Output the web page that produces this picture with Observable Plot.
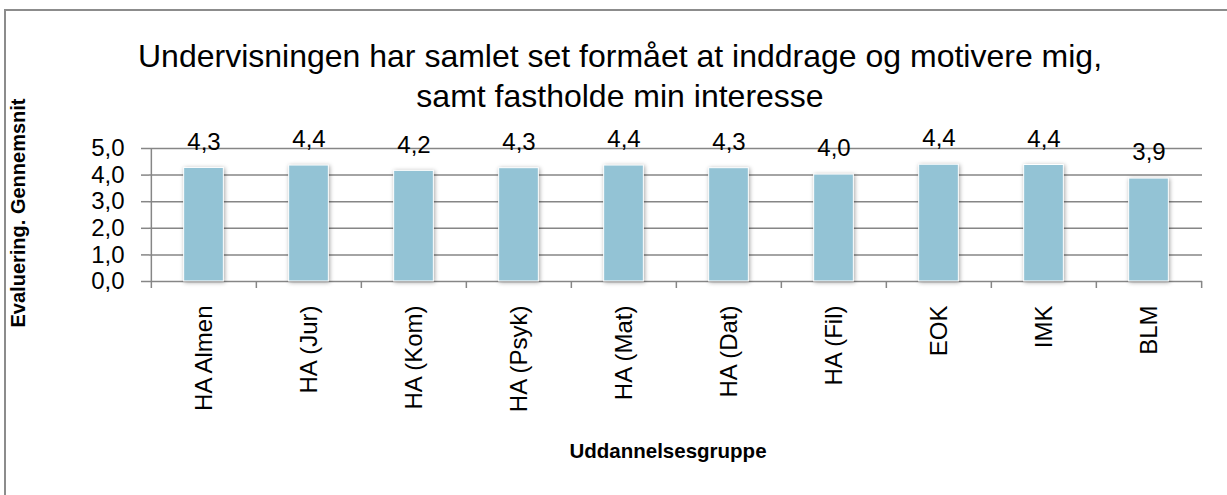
<!DOCTYPE html>
<html>
<head>
<meta charset="utf-8">
<script src="https://cdn.jsdelivr.net/npm/d3@7"></script>
<script src="https://cdn.jsdelivr.net/npm/@observablehq/plot@0.6"></script>
<style>
  body { margin: 0; background: #fff; }
  #wrap { position: relative; width: 1227px; height: 495px; overflow: hidden; font-family: "Liberation Sans", Arial, sans-serif; color: #000; }
  #border { position: absolute; left: 4px; top: 9px; right: -10px; bottom: -10px; border-left: 2px solid #8c8c8c; border-top: 2px solid #8c8c8c; }
  #title { position: absolute; left: 0; width: 1240px; top: 36px; text-align: center; font-size: 32px; line-height: 40px; }
  #ytitle { position: absolute; left: 18px; top: 213px; transform: translate(-50%, -50%) rotate(-90deg); white-space: nowrap; font-weight: bold; font-size: 20px; }
  #xtitle { position: absolute; left: 668px; top: 451px; transform: translate(-50%, -50%); white-space: nowrap; font-weight: bold; font-size: 20.5px; }
  #chart { position: absolute; left: 0; top: 0; }
  g[aria-label="bar"] rect { filter: drop-shadow(1px 1px 2px rgba(0,0,0,0.35)); }
  [aria-label^="y-axis"] line, [aria-label^="y-axis"] path { stroke: #868686; stroke-width: 1.5; }
</style>
</head>
<body>
<div id="wrap">
  <div id="border"></div>
  <div id="chart"></div>
  <div id="title">Undervisningen har samlet set formået at inddrage og motivere mig,<br>samt fastholde min interesse</div>
  <div id="ytitle">Evaluering. Gennemsnit</div>
  <div id="xtitle">Uddannelsesgruppe</div>
</div>
<script>
const categories = ["HA Almen", "HA (Jur)", "HA (Kom)", "HA (Psyk)", "HA (Mat)", "HA (Dat)", "HA (Fil)", "EOK", "IMK", "BLM"];
const values = [4.27, 4.36, 4.16, 4.26, 4.36, 4.26, 4.02, 4.39, 4.38, 3.87];
const yTicks = [0, 1, 2, 3, 4, 5];

const data = categories.map((c, i) => ({category: c, value: values[i]}));
const W = 1227, H = 495, mL = 149, mR = 25, mT = 148, mB = 214;
const bw = (W - mL - mR) / categories.length;
const barW = 40;
const fmt = v => v.toFixed(1).replace(".", ",");
const grey = "#868686";

const chart = Plot.plot({
  width: W, height: H,
  marginLeft: mL, marginRight: mR, marginTop: mT, marginBottom: mB,
  style: {fontFamily: "'Liberation Sans', Arial, sans-serif", fontSize: "24px", background: "transparent", overflow: "visible", color: "#000"},
  x: {domain: categories, padding: 0, tickSize: 0, tickRotate: -90, tickPadding: 24, label: null},
  y: {domain: [0, 5], ticks: yTicks, tickFormat: fmt, tickSize: 8, tickPadding: 17, label: null},
  marks: [
    Plot.ruleY(yTicks, {stroke: grey, strokeWidth: 1.5}),
    Plot.ruleX([categories[0]], {x: d => d, y1: 0, y2: 5, dx: -bw / 2, stroke: grey, strokeWidth: 1.5}),
    Plot.ruleX(categories, {x: d => d, y1: 0, y2: 0, dx: -bw / 2, insetBottom: -7, stroke: grey, strokeWidth: 1.5}),
    Plot.ruleX([categories[categories.length - 1]], {x: d => d, y1: 0, y2: 0, dx: bw / 2, insetBottom: -7, stroke: grey, strokeWidth: 1.5}),
    Plot.barY(data, {x: "category", y: "value", fill: "#93C3D5", stroke: "white", strokeWidth: 1, insetLeft: (bw - barW) / 2, insetRight: (bw - barW) / 2}),
    Plot.text(data, {x: "category", y: "value", text: d => fmt(d.value), dy: -26, fontSize: 24, fill: "#000"})
  ]
});
document.getElementById("chart").appendChild(chart);
</script>
</body>
</html>
